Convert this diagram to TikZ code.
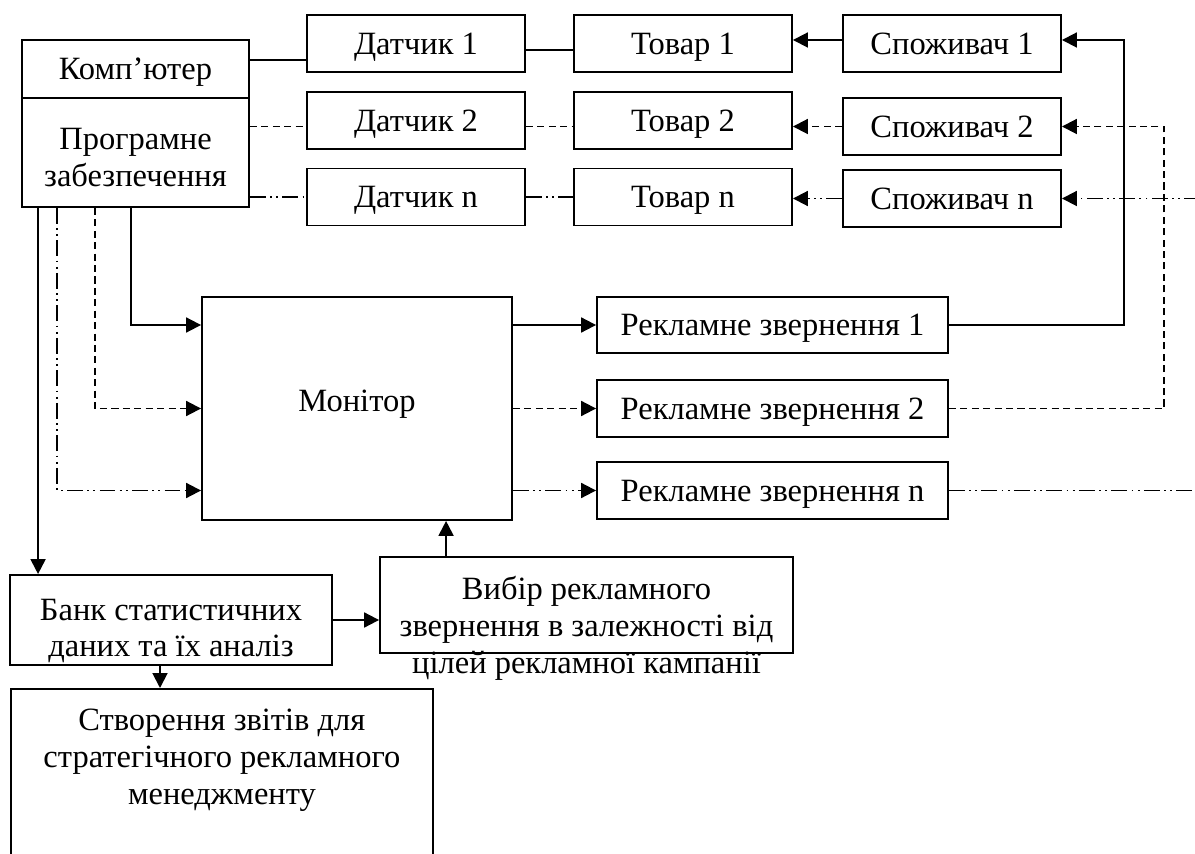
\documentclass[tikz,border=0pt]{standalone}
\usepackage{fontspec}
\setmainfont{Liberation Serif}
\usetikzlibrary{arrows.meta,positioning}

\tikzset{
  blok/.style={draw, minimum width=4.36cm, minimum height=1.14cm, inner sep=2pt},
  odin/.style={text height=12.2pt, text depth=0pt},
  str/.style={-{Triangle[length=8.5pt,width=8.5pt]}},
  shtrykh/.style={dash pattern=on 4pt off 2.5pt},
  punktyr/.style={dash pattern=on 9pt off 2.5pt on 1pt off 2.5pt on 1pt off 2.5pt},
}

\begin{document}
\begin{tikzpicture}[x=0.02cm, y=-0.02cm, line width=1.1pt, font=\fontsize{18.5}{21}\selectfont]
	\useasboundingbox (0,0) rectangle (1195,854);
	\clip (0,0) rectangle (1195,854);
	\coordinate (kraj) at (1200,0);

	% komp'juter
	\node[blok, odin, minimum width=4.54cm, minimum height=1.16cm] (komp) at (135.5,69) {Комп’ютер};
	\node[blok, minimum width=4.54cm, minimum height=2.18cm] (prog) at (135.5,152.5) {};
	\node[align=center] (progt) at ([yshift=-0.1cm]prog.center) {Програмне\\забезпечення};

	% rjady
	\node[blok, odin] (d1) at (416,43.5) {Датчик 1};
	\node[blok, odin] (d2) at (416,120.5) {Датчик 2};
	\node[blok, odin] (dn) at (416,197) {Датчик n};
	\node[blok, odin] (t1) at (683,43.5) {Товар 1};
	\node[blok, odin] (t2) at (683,120.5) {Товар 2};
	\node[blok, odin] (tn) at (683,197) {Товар n};
	\node[blok, odin] (s1) at (952,43.5) {Споживач 1};
	\node[blok, odin] (s2) at (952,126.5) {Споживач 2};
	\node[blok, odin] (sn) at (952,198.5) {Споживач n};

	% monitor i zvernennja
	\node[blok, minimum width=6.2cm, minimum height=4.46cm] (mon) at (357,408.5) {};
	\node[odin] (mont) at ([yshift=0.16cm]mon.center) {Монітор};
	\node[blok, odin, minimum width=7.02cm, minimum height=1.12cm] (r1) at (772.5,325) {Рекламне звернення 1};
	\node[blok, odin, minimum width=7.02cm, minimum height=1.14cm] (r2) at (772.5,408.5) {Рекламне звернення 2};
	\node[blok, odin, minimum width=7.02cm, minimum height=1.14cm] (rn) at (772.5,490.5) {Рекламне звернення n};

	% nyz
	\node[blok, minimum width=6.44cm, minimum height=1.8cm] (bank) at (171,620) {};
	\node[align=center] (bankt) at ([yshift=-0.22cm]bank.center) {Банк статистичних\\даних та їх аналіз};
	\node[blok, minimum width=8.26cm, minimum height=1.92cm] (vyb) at (586.5,605) {};
	\node[align=center] (vybt) at ([yshift=-0.46cm]vyb.center) {Вибір рекламного\\звернення в залежності від\\цілей рекламної кампанії};
	\node[blok, anchor=north west, minimum width=8.44cm, minimum height=4cm] (stv) at (10,688) {};
	\node[align=center, below=0.28cm of stv.north] (stvt) {Створення звітів для\\стратегічного рекламного\\менеджменту};

	% rjad 1
	\draw ([yshift=0.18cm]komp.east) -- ([yshift=0.18cm]komp.east -| d1.west);
	\draw ([yshift=-0.13cm]d1.east) -- ([yshift=-0.13cm]t1.west);
	\draw[str] ([yshift=0.07cm]s1.west) -- ([yshift=0.07cm]t1.east);
	\draw[str] (r1.east) -| ([xshift=1.24cm, yshift=0.07cm]s1.east) -- ([yshift=0.07cm]s1.east);

	% rjad 2
	\draw[shtrykh] (prog.east |- s2.west) -- (d2.west |- s2.west);
	\draw[shtrykh] (d2.east |- s2.west) -- (t2.west |- s2.west);
	\draw[str, shtrykh] (s2.west) -- (t2.east |- s2.west);
	\draw[str, shtrykh] (r2.east) -| ([xshift=2.04cm]s2.east) -- (s2.east);

	% rjad n
	\draw[punktyr] (prog.east |- dn.west) -- (dn.west);
	\draw[punktyr] (dn.east) -- (tn.west);
	\draw[str, punktyr] (sn.west) -- (tn.east |- sn.west);
	\draw[str, punktyr] (sn.east -| kraj) -- (sn.east);
	\draw[punktyr] (rn.east) -- (rn.east -| kraj);

	% do monitora
	\draw[str] ([xshift=2.2cm]prog.south west) |- (mon.west |- r1.west);
	\draw[str, shtrykh] ([xshift=1.48cm]prog.south west) |- (mon.west |- r2.west);
	\draw[str, punktyr] ([xshift=0.72cm]prog.south west) |- (mon.west |- rn.west);
	\draw[str] (mon.east |- r1.west) -- (r1.west);
	\draw[str, shtrykh] (mon.east |- r2.west) -- (r2.west);
	\draw[str, punktyr] (mon.east |- rn.west) -- (rn.west);

	% bank
	\draw[str] ([xshift=0.34cm]prog.south west) -- ([xshift=0.34cm]prog.south west |- bank.north);
	\draw[str] (bank.east) -- (vyb.west |- bank.east);
	\draw[str] ([xshift=1.34cm]vyb.north west) -- ([xshift=1.34cm]vyb.north west |- mon.south);
	\draw[str] ([xshift=-0.22cm]bank.south) -- ([xshift=-0.22cm]bank.south |- stv.north);
\end{tikzpicture}
\end{document}
